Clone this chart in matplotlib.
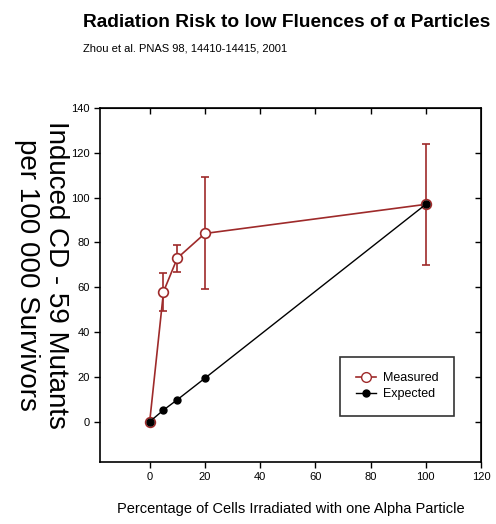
import matplotlib
matplotlib.use("Agg")
import matplotlib.pyplot as plt
from matplotlib.lines import Line2D

# data
pct_measured = [0, 5, 10, 20, 100]
mutants_measured = [0, 58, 73, 84, 97]
err_measured = [0, 8.5, 6, 25, 27]

pct_expected = [0, 5, 10, 20, 100]
mutants_expected = [0, 5.2, 9.8, 19.4, 97]

xticks = [0, 20, 40, 60, 80, 100, 120]
yticks = [0, 20, 40, 60, 80, 100, 120, 140]

FONT = "Liberation Sans"
RED = "#9e2a2a"

fig = plt.figure(figsize=(4.96, 5.24), dpi=100)
ax = fig.add_axes([0.2016, 0.1183, 0.7682, 0.6756])

ax.errorbar(pct_measured, mutants_measured, yerr=err_measured, color=RED, lw=1.2,
            marker="o", ms=7, mfc="white", mec=RED, mew=1.2,
            elinewidth=1.2, capsize=3, zorder=2)
ax.plot(pct_expected, mutants_expected, color="black", lw=1, marker="o", ms=5,
        mfc="black", mec="black", zorder=3)

ax.set_xlim(-18, 120)
ax.set_ylim(-18, 140)
ax.set_xticks(xticks)
ax.set_yticks(yticks)
ax.tick_params(axis="both", labelsize=8, length=4, width=1, direction="out")
for lab in ax.get_xticklabels() + ax.get_yticklabels():
    lab.set_family(FONT)
for s in ax.spines.values():
    s.set_linewidth(1.2)

# inward ticks on top and right, no labels
top = ax.secondary_xaxis("top")
top.set_xticks(xticks[:-1])
top.tick_params(direction="in", length=4, width=1, labeltop=False)
right = ax.secondary_yaxis("right")
right.set_yticks(yticks[:-1])
right.tick_params(direction="in", length=4, width=1, labelright=False)

ax.set_xlabel("Percentage of Cells Irradiated with one Alpha Particle",
              family=FONT, fontsize=10.5, labelpad=14)
fig.text(0.084, 0.475, "Induced CD - 59 Mutants\nper 100 000 Survivors",
         rotation=270, ha="center", va="center", fontsize=20,
         family=FONT, linespacing=1.15)

handles = [
    Line2D([], [], color=RED, lw=1.2, marker="o", ms=7, mfc="white", mec=RED),
    Line2D([], [], color="black", lw=1, marker="o", ms=5, mfc="black"),
]
leg = ax.legend(handles, ["Measured", "Expected"], loc="upper left",
                bbox_to_anchor=(0.63, 0.297), borderaxespad=0,
                prop={"family": FONT, "size": 9},
                frameon=True, fancybox=False, edgecolor="black",
                handlelength=1.6, handletextpad=0.6, borderpad=1.25,
                labelspacing=0.3)
leg.get_frame().set_linewidth(1.2)

fig.text(0.167, 0.957, "Radiation Risk to low Fluences of \u03b1 Particles",
         family=FONT, fontweight="bold", fontsize=13.8, va="center")
fig.text(0.167, 0.907, "Zhou et al. PNAS 98, 14410-14415, 2001",
         family=FONT, fontsize=8, va="center")

fig.savefig("out.png", dpi=100)
